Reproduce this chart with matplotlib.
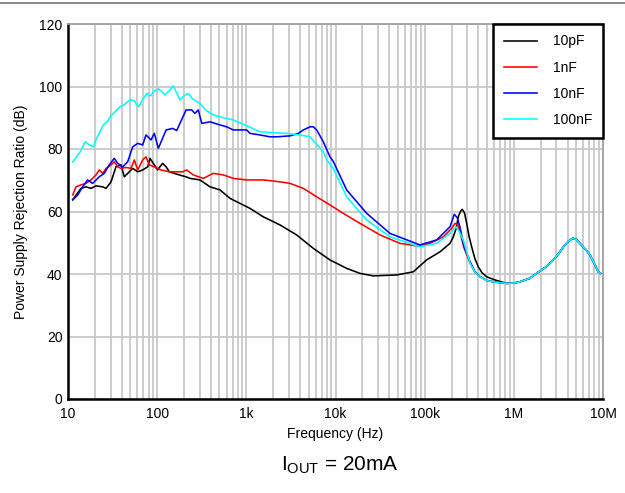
import matplotlib
matplotlib.use("Agg")
import matplotlib.pyplot as plt
from matplotlib.ticker import FixedLocator, LogLocator, NullFormatter
from matplotlib.lines import Line2D

plt.rcParams['font.family'] = ['Liberation Sans', 'DejaVu Sans']
plt.rcParams['mathtext.fontset'] = 'custom'
plt.rcParams['mathtext.rm'] = 'Liberation Sans'
plt.rcParams['mathtext.it'] = 'Liberation Sans:italic'

series_names = ["10pF", "1nF", "10nF", "100nF"]
series_colors = ["#000000", "#ff0000", "#0000ff", "#00ffff"]

# shared high-frequency tail (all curves coincide)
tail_freq = [831e3, 1.0e6, 1.17e6, 1.5e6, 1.8e6, 2.3e6, 2.77e6, 3.2e6, 3.59e6, 4.1e6,
             4.57e6, 5.0e6, 5.52e6, 6.3e6, 7.14e6, 8.0e6, 8.85e6, 9.4e6]
tail_db = [37.0, 37.1, 37.5, 38.6, 40.2, 42.3, 44.5, 46.6, 48.7, 50.5,
           51.4, 51.1, 49.8, 48.0, 46.1, 43.3, 40.7, 40.2]

f_10pF = [11.3, 14.0, 15.9, 18.1, 20.6, 24.5, 26.7, 30.4, 34.5, 39.3, 42.8, 46.7, 53.2,
          60.5, 68.8, 78.3, 83.1, 92.9, 101, 115, 126, 137, 177, 211, 233, 302, 391, 507,
          656, 849, 1099, 1549, 2385, 3670, 5640, 8670, 13340, 18830, 26500, 48500, 74600,
          105000, 148600, 192300, 209500, 225000, 238300, 252000, 264000, 280000, 295800,
          315000, 336600, 365000, 399000, 440000, 496500, 600000, 700000]
db_10pF = [63.8, 67.4, 67.9, 67.4, 68.2, 67.9, 67.4, 69.5, 74.3, 74.9, 71.1, 72.2, 73.8,
           72.7, 73.3, 74.3, 77.0, 74.9, 73.3, 75.4, 74.3, 72.7, 71.7, 71.1, 70.6, 70.1,
           67.9, 66.9, 64.2, 62.6, 61.0, 58.3, 55.7, 52.5, 48.2, 44.5, 41.8, 40.2, 39.4,
           39.7, 40.7, 44.5, 47.1, 49.8, 51.9, 54.5, 58.3, 60.0, 60.7, 59.5, 56.2, 52.0,
           48.7, 45.0, 42.3, 40.4, 39.1, 38.2, 37.6]

f_1nF = [11.3, 12.3, 14.0, 15.9, 18.1, 20.6, 22.4, 24.5, 26.7, 30.4, 33.0, 36.1, 39.3,
         44.7, 50.9, 55.4, 60.5, 68.8, 74.9, 81.6, 92.9, 110.4, 137, 193, 214, 254, 329,
         426, 552, 714, 1009, 1549, 2385, 3090, 4357, 6150, 8670, 12240, 18830, 31550,
         52860, 81400, 114800, 161800, 201000, 219000, 235000, 248800, 275000, 322300,
         365000, 417000, 500000, 589000, 700000]
db_1nF = [65.3, 67.9, 68.5, 69.0, 70.1, 71.7, 73.3, 72.2, 73.8, 74.9, 75.9, 74.3, 73.8,
          74.1, 73.8, 76.5, 73.3, 76.5, 77.5, 74.9, 74.3, 73.3, 72.7, 72.7, 73.3, 71.7,
          70.6, 72.2, 71.7, 70.6, 70.1, 70.1, 69.5, 69.0, 67.4, 64.7, 62.1, 59.4, 56.2,
          52.5, 49.8, 49.0, 49.8, 51.9, 54.6, 56.2, 55.8, 53.5, 48.5, 43.5, 40.6, 39.1,
          37.9, 37.5, 37.2]

f_10nF = [11.3, 12.85, 14.6, 16.6, 18.9, 22.4, 25.5, 29.0, 33.0, 36.1, 41.1, 46.7, 53.2,
          60.5, 68.8, 74.9, 85.3, 92.9, 103, 126, 149.3, 165.6, 211, 244, 265, 289, 316,
          391, 507, 602, 714, 849, 1009, 1099, 1422, 1841, 2187, 3090, 3826, 4357, 5176,
          5640, 6150, 7300, 8670, 9446, 13340, 22380, 40830, 88540, 136400, 192300,
          215000, 232000, 248800, 275000, 322300, 365000, 417000, 500000, 589000, 700000]
db_10nF = [63.7, 65.3, 67.9, 70.1, 69.0, 71.1, 72.2, 74.9, 77.0, 75.4, 74.3, 75.9, 80.7,
           81.8, 81.3, 84.5, 82.9, 85.0, 80.2, 86.1, 86.6, 85.9, 92.5, 92.5, 91.4, 92.5,
           88.2, 88.7, 87.7, 87.1, 86.1, 86.1, 86.1, 85.0, 84.5, 83.9, 83.9, 84.2, 85.0,
           86.1, 87.1, 87.1, 86.1, 82.3, 77.5, 76.0, 66.9, 59.4, 53.0, 49.3, 50.9, 55.1,
           59.1, 58.0, 55.0, 49.0, 44.0, 40.8, 39.2, 37.9, 37.5, 37.2]

f_100nF = [11.3, 12.5, 14.0, 15.5, 17.0, 19.2, 21.0, 24.9, 28.0, 30.0, 33.7, 38.0, 42.0,
           49.6, 55.0, 61.5, 68.0, 76.3, 85.0, 92.0, 103, 112, 122, 135, 152, 165, 180,
           200, 223, 250, 302, 350, 426, 550, 714, 1000, 1422, 2000, 2834, 4000, 5176,
           6150, 7300, 7960, 9446, 13340, 22380, 40830, 88540, 136400, 192300, 224500,
           240000, 271000, 322300, 365000, 417000, 500000, 589000, 700000]
db_100nF = [75.9, 77.5, 79.5, 82.3, 81.5, 80.7, 83.5, 87.7, 89.0, 90.5, 91.9, 93.5, 94.0,
            95.7, 95.5, 93.5, 95.5, 97.8, 97.0, 98.5, 99.2, 98.5, 97.3, 98.5, 100.2, 98.0,
            95.7, 97.0, 97.8, 96.0, 94.6, 92.5, 90.9, 90.0, 89.3, 87.5, 85.5, 85.2, 85.0,
            84.5, 83.9, 81.5, 79.1, 76.5, 73.8, 64.7, 57.3, 51.9, 48.7, 49.8, 53.0, 55.1,
            54.0, 50.9, 43.5, 40.6, 39.1, 37.9, 37.5, 37.2]

series_freq = [f_10pF, f_1nF, f_10nF, f_100nF]
series_db = [db_10pF, db_1nF, db_10nF, db_100nF]

x_ticks = [10, 100, 1e3, 1e4, 1e5, 1e6, 1e7]
x_tick_labels = ["10", "100", "1k", "10k", "100k", "1M", "10M"]
y_ticks = [0, 20, 40, 60, 80, 100, 120]

fig = plt.figure(figsize=(6.25, 4.93), dpi=100)
ax = fig.add_axes([68/625, 1-399/493, (603-68)/625, (399-24)/493])

for fr, db, c, n in zip(series_freq, series_db, series_colors, series_names):
    ax.plot(list(fr) + tail_freq, list(db) + tail_db, color=c, lw=1.15, label=n,
            solid_joinstyle='round')

ax.set_xscale('log')
ax.set_xlim(10, 1e7)
ax.set_ylim(0, 120)
ax.xaxis.set_major_locator(FixedLocator(x_ticks))
ax.set_xticks(x_ticks)
ax.set_xticklabels(x_tick_labels)
ax.xaxis.set_minor_locator(LogLocator(base=10, subs=range(2, 10)))
ax.xaxis.set_minor_formatter(NullFormatter())
ax.set_yticks(y_ticks)
ax.tick_params(axis='both', which='both', length=0, labelsize=10, colors='black')
ax.tick_params(axis='x', pad=6)
ax.tick_params(axis='y', pad=4)

ax.grid(True, which='major', color='#c8c8c8', lw=1.3)
ax.grid(True, which='minor', axis='x', color='#c8c8c8', lw=1.3)
ax.set_axisbelow(True)

ax.spines['left'].set_color('black')
ax.spines['left'].set_linewidth(1.8)
ax.spines['bottom'].set_color('black')
ax.spines['bottom'].set_linewidth(1.8)
ax.spines['top'].set_color('#a0a0a0')
ax.spines['top'].set_linewidth(1.3)
ax.spines['right'].set_color('#a0a0a0')
ax.spines['right'].set_linewidth(1.3)

ax.set_xlabel("Frequency (Hz)", fontsize=10, labelpad=4)
ax.set_ylabel("Power Supply Rejection Ratio (dB)", fontsize=10, labelpad=8)

handles = [Line2D([], [], color=c, lw=1.15) for c in series_colors]
leg = ax.legend(handles, series_names, loc='upper right', bbox_to_anchor=(1.0, 1.0),
                fontsize=10, frameon=True, fancybox=False, framealpha=1,
                edgecolor='black', borderpad=0.75, labelspacing=0.88,
                handlelength=2.35, handletextpad=1.2, borderaxespad=0.0)
leg.get_frame().set_linewidth(1.8)
for t in leg.get_texts():
    t.set_ha('left')

fig.text(340/625, 1-465/493, r"I$_{\mathrm{OUT}}$ = 20mA", fontsize=15,
         ha='center', va='center')

fig.add_artist(Line2D([0, 1], [1-3/493, 1-3/493], color='#808080', lw=1.3,
                      transform=fig.transFigure))

fig.savefig("out.png", dpi=100)
